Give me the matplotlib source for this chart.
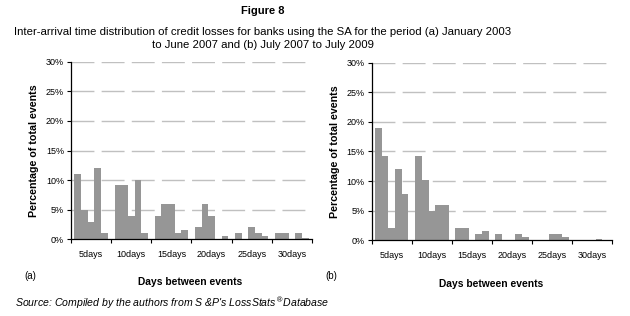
import numpy as np
import matplotlib
matplotlib.use("Agg")
import matplotlib.pyplot as plt

plt.rcParams["font.family"] = ["Liberation Sans", "DejaVu Sans"]
plt.rcParams["lines.scale_dashes"] = False

# categories on the x axis, 5 bars (days) in each
categories = ["5days", "10days", "15days", "20days", "25days", "30days"]

# percentage of total events, one row per category, one value per day
pct_a = [
    [11.0, 5.0, 3.0, 12.0, 1.0],
    [9.2, 9.2, 4.0, 10.0, 1.0],
    [4.0, 6.0, 6.0, 1.0, 1.5],
    [2.0, 6.0, 4.0, 0.0, 0.5],
    [1.0, 0.0, 2.0, 1.0, 0.5],
    [1.0, 1.0, 0.0, 1.0, 0.25],
]
pct_b = [
    [19.0, 14.2, 2.0, 12.1, 7.9],
    [14.2, 10.1, 5.0, 5.9, 5.9],
    [2.0, 2.0, 0.0, 1.0, 1.5],
    [1.0, 0.0, 0.0, 1.0, 0.5],
    [0.0, 0.0, 1.0, 1.0, 0.5],
    [0.0, 0.0, 0.0, 0.3, 0.0],
]
yticks = [0, 5, 10, 15, 20, 25, 30]

BAR = "#969696"
GRID = "#c0c0c0"


def draw_panel(ax, data):
    data = np.array(data)
    n_cat, n_ser = data.shape
    w = 1.0 / (n_ser + 1)
    x = np.arange(n_cat)
    for j in range(n_ser):
        ax.bar(x + (j - (n_ser - 1) / 2) * w, data[:, j], width=w,
               color=BAR, edgecolor="none", zorder=2)

    ax.set_xlim(-0.5, n_cat - 0.5)
    ax.set_ylim(0, 30)
    ax.set_yticks(yticks)
    ax.set_yticklabels(["%d%%" % t for t in yticks], fontsize=6.5)
    for t in yticks[1:]:
        ax.axhline(t, color=GRID, lw=1.0, linestyle=(0, (16.5, 5.2)), zorder=1)

    ax.set_xticks(np.arange(-0.5, n_cat, 1.0))
    ax.set_xticklabels([])
    ax.set_xticks(x, minor=True)
    ax.set_xticklabels(categories, minor=True, fontsize=6.5)
    ax.tick_params(axis="x", which="major", direction="out", length=3, width=0.8)
    ax.tick_params(axis="x", which="minor", length=0, pad=7.5)
    ax.tick_params(axis="y", direction="out", length=3, width=0.8, pad=2)

    for s in ("top", "right"):
        ax.spines[s].set_visible(False)
    for s in ("left", "bottom"):
        ax.spines[s].set_linewidth(0.9)
    ax.set_ylabel("Percentage of total events", fontsize=7.7, fontweight="bold",
                  labelpad=5)


fig = plt.figure(figsize=(6.3, 3.16), dpi=100)
ax_a = fig.add_axes([0.1127, 0.2427, 0.3825, 0.562])
ax_b = fig.add_axes([0.590, 0.2396, 0.3819, 0.562])
draw_panel(ax_a, pct_a)
draw_panel(ax_b, pct_b)

fig.text(263 / 630, 1 - 11 / 316, "Figure 8", ha="center", va="center",
         fontsize=8, fontweight="bold")
fig.text(263 / 630, 1 - 38.5 / 316,
         "Inter-arrival time distribution of credit losses for banks using the SA for the period (a) January 2003\n"
         "to June 2007 and (b) July 2007 to July 2009",
         ha="center", va="center", fontsize=8.2, linespacing=1.3)

fig.text(30 / 630, 1 - 276 / 316, "(a)", ha="center", va="center", fontsize=7)
fig.text(190 / 630, 1 - 282 / 316, "Days between events", ha="center",
         va="center", fontsize=7.4, fontweight="bold")
fig.text(331 / 630, 1 - 276 / 316, "(b)", ha="center", va="center", fontsize=7)
fig.text(491 / 630, 1 - 284 / 316, "Days between events", ha="center",
         va="center", fontsize=7.4, fontweight="bold")
fig.text(15 / 630, 1 - 303 / 316,
         r"Source: Compiled by the authors from S &P's LossStats$^{\circledR}$Database",
         ha="left", va="center", fontsize=7.6, style="italic")

fig.savefig("out.png", dpi=100)
